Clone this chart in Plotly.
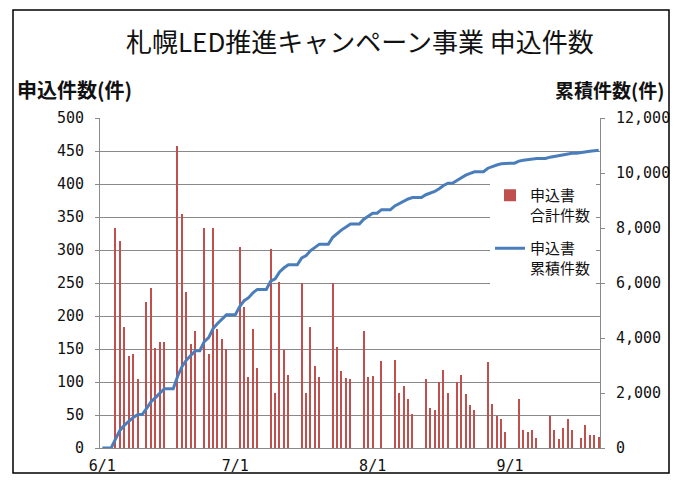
import numpy as np
import pandas as pd
import plotly.graph_objects as go

# ---- data ----
start_date = "2012-06-01"
daily_counts = [
    0, 0, 0, 333, 314, 184, 140,
    143, 104, 0, 221, 242, 152, 160,
    160, 0, 0, 458, 355, 236, 157,
    178, 0, 333, 143, 333, 180, 165,
    150, 0, 0, 304, 213, 108, 180,
    121, 0, 0, 301, 84, 252, 149,
    111, 0, 0, 250, 84, 184, 124,
    107, 0, 0, 250, 153, 116, 106,
    104, 0, 0, 178, 107, 109, 0,
    132, 0, 0, 134, 84, 94, 74,
    52, 0, 0, 104, 60, 57, 100,
    118, 84, 0, 100, 111, 82, 65,
    57, 0, 0, 130, 67, 49, 44,
    25, 0, 0, 74, 28, 24, 28,
    15, 0, 0, 48, 28, 13, 30,
    44, 28, 0, 15, 35, 20, 20,
    17,
]
tick_dates = ["2012-06-01", "2012-07-01", "2012-08-01", "2012-09-01"]
tick_labels = ["6/1", "7/1", "8/1", "9/1"]
series_names = ["申込書<br>合計件数", "申込書<br>累積件数"]
title_text = "札幌LED推進キャンペーン事業 申込件数"
left_title = "申込件数(件)"
right_title = "累積件数(件)"

dates = pd.date_range(start_date, periods=len(daily_counts), freq="D")
cumulative = np.cumsum(daily_counts)

# the page body adds an 8px margin on every side; size the figure so the
# page is exactly the window, and work in window pixels
OFF = 8
W, H = 678 - 2 * OFF, 483 - 2 * OFF
L, R, T, B = 100, 600, 118, 448  # plot area in window pixels


def px_x(x):
    return (x - L) / (R - L)


def px_y(y):
    return (B - y) / (B - T)


FONT = "Noto Sans CJK JP"
NUMFONT = "DejaVu Sans Mono"
GRID = "#8a8a8a"

fig = go.Figure()
fig.add_trace(go.Bar(
    x=dates, y=daily_counts, name=series_names[0], legendgroup="a",
    marker=dict(color="#C0504D", line=dict(width=0)),
    width=0.3 * 86400000,
))
fig.add_trace(go.Scatter(
    x=dates, y=cumulative, name=series_names[1], yaxis="y2", legendgroup="b",
    mode="lines", line=dict(color="#4A7EBB", width=3),
))

fig.update_layout(
    template="none",
    width=W, height=H, autosize=False,
    margin=dict(l=L - OFF, r=W - (R - OFF), t=T - OFF, b=H - (B - OFF), pad=0,
                autoexpand=False),
    paper_bgcolor="white", plot_bgcolor="white",
    font=dict(family=FONT, color="#1a1a1a", size=15),
    bargap=0,
    showlegend=True,
    legend=dict(
        x=px_x(490), y=px_y(179), xanchor="left", yanchor="top",
        bgcolor="white", borderwidth=0,
        font=dict(family=FONT, size=15, color="#111"),
        traceorder="grouped", tracegroupgap=11, valign="top",
        itemwidth=30,
    ),
    xaxis=dict(
        type="date", automargin=False,
        range=[pd.Timestamp(start_date) - pd.Timedelta(hours=12.5),
               pd.Timestamp(start_date) + pd.Timedelta(days=112, hours=7)],
        tickvals=tick_dates, ticktext=tick_labels,
        showgrid=False, zeroline=False,
        showline=True, linecolor=GRID, linewidth=1,
        ticks="outside", ticklen=0, ticklabelstandoff=4,
        tickfont=dict(size=15, family=NUMFONT, color="#111"),
    ),
    yaxis=dict(
        range=[0, 500], dtick=50, tick0=0, automargin=False,
        showgrid=True, gridcolor=GRID, gridwidth=1,
        zeroline=False, showline=True, linecolor=GRID, linewidth=1,
        ticks="outside", ticklen=4, tickcolor=GRID,
        ticklabelstandoff=8,
        tickfont=dict(size=15, family=NUMFONT, color="#111"),
    ),
    yaxis2=dict(
        range=[0, 12000], dtick=2000, tick0=0, overlaying="y", side="right",
        automargin=False,
        showgrid=False, zeroline=False, showline=True, linecolor=GRID, linewidth=1,
        ticks="outside", ticklen=4, tickcolor=GRID, tickformat=",",
        ticklabelstandoff=8,
        tickfont=dict(size=15, family=NUMFONT, color="#111"),
    ),
    annotations=[
        dict(text=title_text, xref="paper", yref="paper",
             x=px_x(360), y=px_y(40), xanchor="center", yanchor="middle",
             showarrow=False, font=dict(family=FONT, size=26, color="#111")),
        dict(text="<b>" + left_title + "</b>", xref="paper", yref="paper",
             x=px_x(15), y=px_y(89), xanchor="left", yanchor="middle",
             showarrow=False, font=dict(family=FONT, size=20, color="#111")),
        dict(text="<b>" + right_title + "</b>", xref="paper", yref="paper",
             x=px_x(666), y=px_y(89), xanchor="right", yanchor="middle",
             showarrow=False, font=dict(family=FONT, size=19, color="#111")),
    ],
    shapes=[
        dict(type="rect", xref="paper", yref="paper",
             x0=px_x(13), x1=px_x(669), y0=px_y(473), y1=px_y(10),
             line=dict(color="black", width=1.5), fillcolor="rgba(0,0,0,0)",
             layer="above"),
    ],
)

fig.write_html("out.html")
